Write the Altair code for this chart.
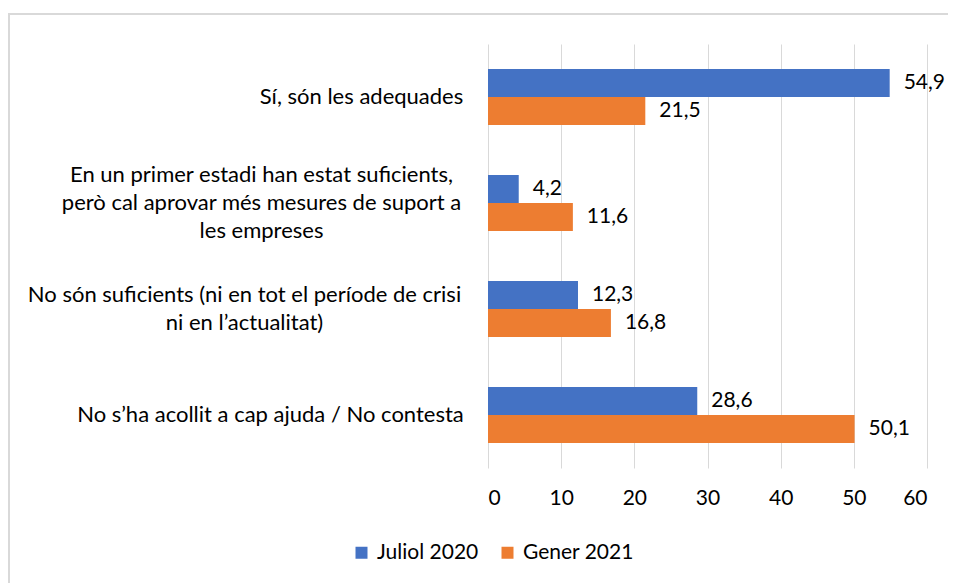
import json
import altair as alt
import pandas as pd

categories = [
    "Sí, són les adequades",
    "En un primer estadi han estat suficients,|però cal aprovar més mesures de suport a|les empreses",
    "No són suficients (ni en tot el període de crisi|ni en l’actualitat)",
    "No s’ha acollit a cap ajuda / No contesta",
]
series = ["Juliol 2020", "Gener 2021"]
juliol_2020 = [54.9, 4.2, 12.3, 28.6]
gener_2021 = [21.5, 11.6, 16.8, 50.1]
colors = ["#4472C4", "#ED7D31"]
x_ticks = [0, 10, 20, 30, 40, 50, 60]

rows = []
for c, a, b in zip(categories, juliol_2020, gener_2021):
    rows.append({"cat": c, "series": series[0], "v": a})
    rows.append({"cat": c, "series": series[1], "v": b})
df = pd.DataFrame(rows)

FONT = "Lato"
FS_CAT = 22
FS = 21
LINE_H = 28

# label block centre distance from the plot's left edge (style only)
label_pad = [127, 227, 244, 218]


def test_for(c):
    return "datum.value == " + json.dumps(c, ensure_ascii=False)


pad_cond = {
    "condition": [{"test": test_for(c), "value": p} for c, p in zip(categories, label_pad)],
    "value": 22,
}
off_cond = {
    "condition": [
        {"test": test_for(c), "value": -(len(c.split("|")) - 1) * LINE_H / 2}
        for c in categories
        if "|" in c
    ],
    "value": 0,
}

y_enc = alt.Y(
    "cat:N",
    sort=categories,
    title=None,
    scale=alt.Scale(paddingInner=50 / 106, paddingOuter=25 / 106),
    axis=alt.Axis(
        labelExpr="split(datum.label, '|')",
        labelAlign="center",
        labelPadding=pad_cond,
        labelOffset=off_cond,
        labelLineHeight=LINE_H,
        labelFont=FONT,
        labelFontSize=FS_CAT,
        labelColor="#000000",
        labelLimit=600,
        domain=False,
        ticks=False,
        grid=False,
    ),
)
yoff = alt.YOffset("series:N", sort=series, scale=alt.Scale(paddingInner=0, paddingOuter=0))
x_enc = alt.X(
    "v:Q",
    title=None,
    scale=alt.Scale(domain=[0, 60], nice=False),
    axis=alt.Axis(
        values=x_ticks,
        labelFont=FONT,
        labelFontSize=FS,
        labelColor="#000000",
        labelPadding=19,
        domain=False,
        ticks=False,
        grid=True,
        gridColor="#D9D9D9",
        gridWidth=1,
    ),
)

base = alt.Chart(df).encode(y=y_enc, yOffset=yoff)

bars = base.mark_bar().encode(
    x=x_enc,
    color=alt.Color(
        "series:N",
        sort=series,
        scale=alt.Scale(domain=series, range=colors),
        legend=alt.Legend(
            title=None,
            orient="none",
            legendX=-137,
            legendY=498,
            direction="horizontal",
            symbolType="square",
            symbolSize=144,
            symbolStrokeWidth=0,
            labelFont=FONT,
            labelFontSize=FS,
            labelColor="#000000",
            columnPadding=18,
            symbolOffset=0,
            labelOffset=5,
            padding=0,
        ),
    ),
)

labels = base.transform_calculate(
    lab="replace(format(datum.v, '.1f'), '.', ',')"
).mark_text(align="left", baseline="middle", dx=14, font=FONT, fontSize=FS, color="#000000").encode(
    x=alt.X("v:Q"), text="lab:N"
)

border_top = alt.Chart(pd.DataFrame({"a": [0]})).mark_rule(color="#D9D9D9", strokeWidth=2).encode(
    x=alt.value(-480), x2=alt.value(470), y=alt.value(-30)
)
border_left = alt.Chart(pd.DataFrame({"a": [0]})).mark_rule(color="#D9D9D9", strokeWidth=2).encode(
    x=alt.value(-479), y=alt.value(-30), y2=alt.value(600)
)

chart = (
    alt.layer(bars, labels, border_top, border_left)
    .properties(
        width=439,
        height=424,
        padding={"left": 480, "top": 36, "right": 21, "bottom": 115},
        autosize=alt.AutoSizeParams(type="none"),
        background="#FFFFFF",
    )
    .configure_view(stroke=None)
)

chart.save("out.html", embed_options={"renderer": "svg", "actions": False})
